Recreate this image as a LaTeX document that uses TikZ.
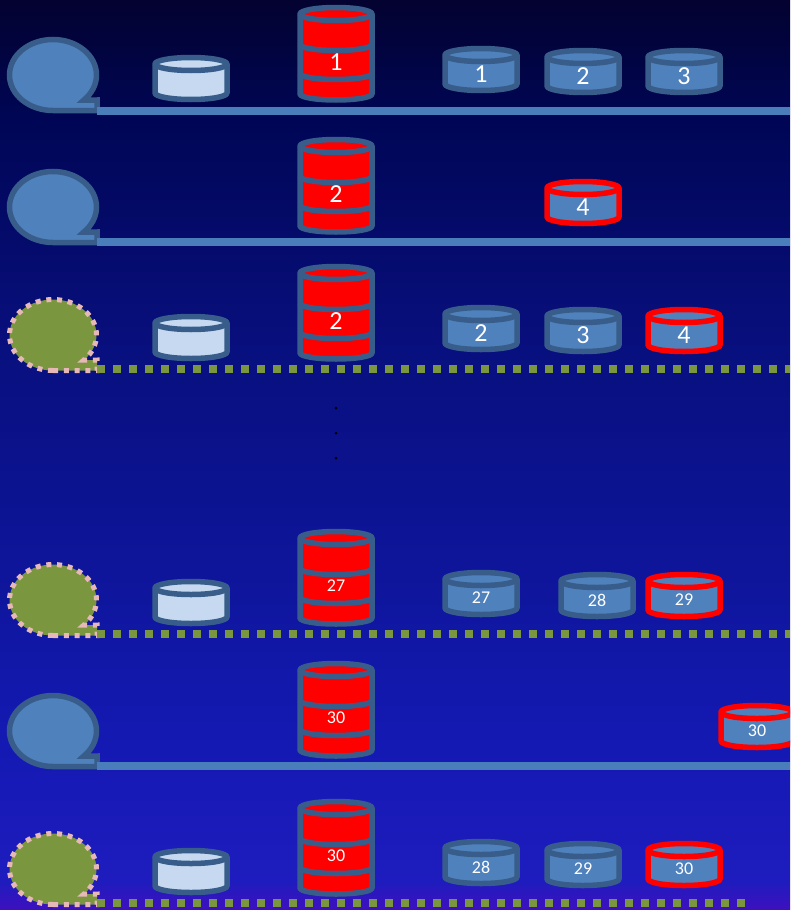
\documentclass[tikz,border=0pt]{standalone}
\usepackage{fontspec}
\setmainfont{Carlito}
\definecolor{bgA}{RGB}{3,2,48}
\definecolor{bgB}{RGB}{0,6,85}
\definecolor{bgC}{RGB}{8,15,125}
\definecolor{bgD}{RGB}{15,22,158}
\definecolor{bgE}{RGB}{20,25,178}
\definecolor{bgF}{RGB}{30,28,190}
\definecolor{bgG}{RGB}{62,16,190}
\definecolor{edgeblue}{RGB}{56,93,138}
\definecolor{fillblue}{RGB}{79,129,189}
\definecolor{lineblue}{RGB}{74,126,187}
\definecolor{fillpale}{RGB}{198,217,241}
\definecolor{fillgreen}{RGB}{122,150,62}
\definecolor{edgepink}{RGB}{230,185,184}
\pgfdeclareverticalshading{bgshade}{100bp}{color(0bp)=(bgG);color(25bp)=(bgG);color(26.6bp)=(bgF);color(34.6bp)=(bgE);color(42bp)=(bgD);color(56.3bp)=(bgC);color(68.4bp)=(bgB);color(75bp)=(bgA);color(100bp)=(bgA)}
\tikzset{
  canline/.style={line width=5.5pt,line join=round},
  numbig/.style={text=white,font=\fontsize{26}{26}\selectfont,inner sep=0pt},
  numsmall/.style={text=white,font=\fontsize{18}{18}\selectfont,inner sep=0pt},
  solidlink/.style={draw=lineblue,line width=8pt},
  dotlink/.style={draw=fillgreen,line width=8pt,dash pattern=on 8pt off 8pt},
  bubblesolid/.style={fill=fillblue,draw=edgeblue,line width=5.5pt},
  bubbledot/.style={fill=fillgreen,draw=edgepink,line width=5pt,dash pattern=on 5pt off 5.7pt},
  dotmark/.style={circle,fill=black,inner sep=0pt,minimum size=3pt}
}
% #1 name, #2 centre x, #3 outer top y, #4 fill, #5 edge, #6 style, #7 text
\newcommand{\mycan}[7]{%
  \begin{scope}[shift={(#2,#3)}]
    \draw[canline,fill=#4,draw=#5] (-36,9) -- (-36,38)
      arc[start angle=180,end angle=0,x radius=36,y radius=6.5] -- (36,9)
      arc[start angle=0,end angle=-180,x radius=36,y radius=6.5] -- cycle;
    \draw[canline,draw=#5] (-36,9) arc[start angle=180,end angle=0,x radius=36,y radius=6.5];
    \node[#6] (#1) at (0,28) {#7};
  \end{scope}}
% #1 name, #2 outer top y, #3 style, #4 text
\newcommand{\mybarrel}[4]{%
  \begin{scope}[shift={(336,#2)}]
    \draw[canline,fill=red,draw=edgeblue] (-36,9) -- (-36,89)
      arc[start angle=180,end angle=0,x radius=36,y radius=6] -- (36,9)
      arc[start angle=0,end angle=-180,x radius=36,y radius=6.5] -- cycle;
    \draw[canline,draw=edgeblue] (-36,9) arc[start angle=180,end angle=0,x radius=36,y radius=6.5];
    \draw[canline,draw=edgeblue] (-36,39.5) arc[start angle=180,end angle=0,x radius=36,y radius=6];
    \draw[canline,draw=edgeblue] (-36,68.5) arc[start angle=180,end angle=0,x radius=36,y radius=6];
    \node[#3] (#1) at (0,57) {#4};
  \end{scope}}
% #1 style, #2 origin y
\newcommand{\mybubble}[2]{%
  \begin{scope}[shift={(53,#2)}]
    \draw[#1] (0,73) arc[start angle=90,end angle=405,x radius=43.5,y radius=35.5]
      -- (44,62.5) -- (44,73) -- cycle;
  \end{scope}}
\begin{document}
\begin{tikzpicture}[x=1pt,y=-1pt]
\useasboundingbox (0,0) rectangle (790,910);
\clip (0,0) rectangle (790,910);
\fill[shading=bgshade] (0,0) rectangle (790,910);

% row 1
\mybubble{bubblesolid}{37.5}
\coordinate (e1) at (790,110.5);
\coordinate (s1) at (97,110.5);
\draw[solidlink] (s1) -- (e1);
\mycan{w1}{191}{55}{fillpale}{edgeblue}{numbig}{}
\mybarrel{b1}{5}{numbig}{1}
\mycan{c11}{481}{46}{fillblue}{edgeblue}{numbig}{1}
\mycan{c12}{583}{48}{fillblue}{edgeblue}{numbig}{2}
\mycan{c13}{684}{48}{fillblue}{edgeblue}{numbig}{3}

% row 2
\mybubble{bubblesolid}{169.5}
\coordinate (e2) at (790,241.5);
\coordinate (s2) at (97,241.5);
\draw[solidlink] (s2) -- (e2);
\mybarrel{b2}{137}{numbig}{2}
\mycan{c21}{583}{179}{fillblue}{red}{numbig}{4}

% row 3
\mybubble{bubbledot}{297.5}
\coordinate (e3) at (790,369);
\coordinate (s3) at (97,369);
\draw[dotlink] (s3) -- (e3);
\mycan{w3}{191}{314}{fillpale}{edgeblue}{numbig}{}
\mybarrel{b3}{264}{numbig}{2}
\mycan{c31}{481}{305}{fillblue}{edgeblue}{numbig}{2}
\mycan{c32}{583}{307}{fillblue}{edgeblue}{numbig}{3}
\mycan{c33}{684}{307}{fillblue}{red}{numbig}{4}

% ellipsis
\node[dotmark] (d1) at (336,408) {};
\node[dotmark] (d2) at (336,433) {};
\node[dotmark] (d3) at (336,458) {};

% row 4
\mybubble{bubbledot}{562.5}
\coordinate (e4) at (790,634);
\coordinate (s4) at (97,634);
\draw[dotlink] (s4) -- (e4);
\mycan{w4}{191}{579}{fillpale}{edgeblue}{numsmall}{}
\mybarrel{b4}{529}{numsmall}{27}
\mycan{c41}{481}{570}{fillblue}{edgeblue}{numsmall}{27}
\mycan{c42}{597}{572}{fillblue}{edgeblue}{numsmall}{28}
\mycan{c43}{684}{572}{fillblue}{red}{numsmall}{29}

% row 5
\mybubble{bubblesolid}{693.5}
\coordinate (e5) at (790,765.5);
\coordinate (s5) at (97,765.5);
\draw[solidlink] (s5) -- (e5);
\mybarrel{b5}{661}{numsmall}{30}
\mycan{c51}{757}{703}{fillblue}{red}{numsmall}{30}

% row 6
\mybubble{bubbledot}{831.5}
\coordinate (e6) at (745,903);
\coordinate (s6) at (97,903);
\draw[dotlink] (s6) -- (e6);
\mycan{w6}{191}{848}{fillpale}{edgeblue}{numsmall}{}
\mybarrel{b6}{799}{numsmall}{30}
\mycan{c61}{481}{839}{fillblue}{edgeblue}{numsmall}{28}
\mycan{c62}{583}{841}{fillblue}{edgeblue}{numsmall}{29}
\mycan{c63}{684}{841}{fillblue}{red}{numsmall}{30}
\end{tikzpicture}
\end{document}
